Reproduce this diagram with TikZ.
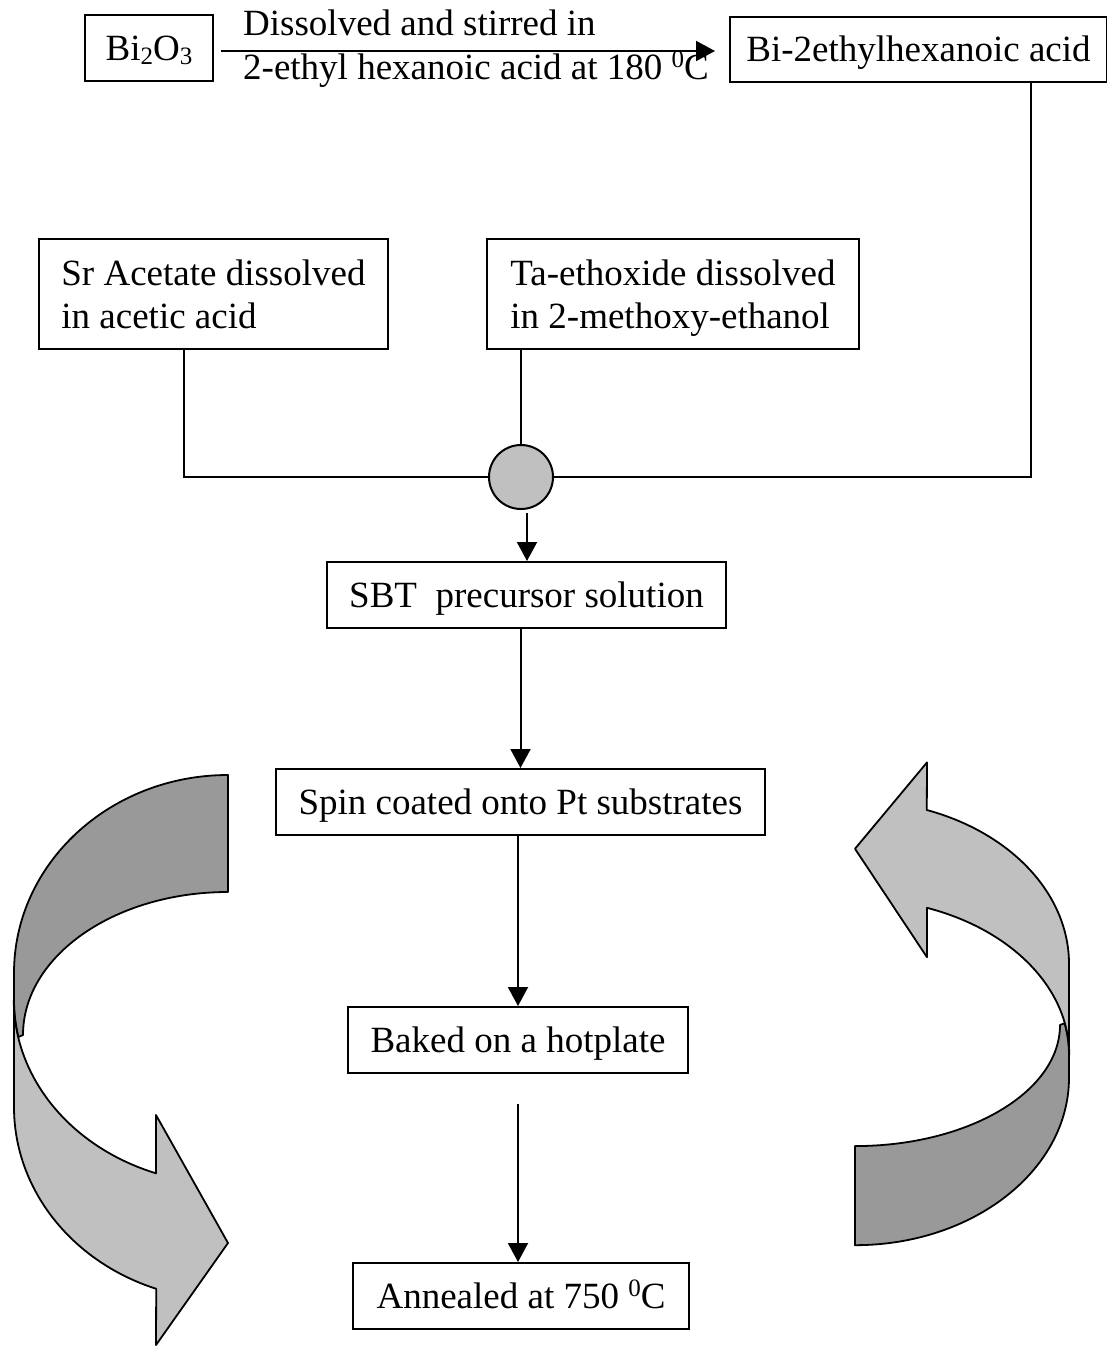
\documentclass[tikz,border=0pt]{standalone}
\usepackage{fontspec}
\setmainfont{Liberation Serif}
\usetikzlibrary{arrows.meta}
\definecolor{darkband}{HTML}{999999}
\definecolor{lightband}{HTML}{C0C0C0}
\definecolor{mixgray}{HTML}{C0C0C0}
\newcommand\fs{\fontsize{37}{43}\selectfont}
\newcommand\mysup[1]{\raisebox{12pt}{\fontsize{25}{25}\selectfont #1}}
\newcommand\mysub[1]{\raisebox{-5pt}{\fontsize{25}{25}\selectfont #1}}
\newcommand\curvedarrow{%
  \filldraw[band, fill=darkband] (228,775)
    arc[start angle=270, end angle=180, x radius=214, y radius=198]
    -- (14,1000)
    arc[start angle=180, end angle=168.4, x radius=214, y radius=184]
    -- (23,1035)
    arc[start angle=180, end angle=270, x radius=205, y radius=143]
    -- cycle;
  \filldraw[band, fill=lightband] (14,1000) -- (14,1107)
    arc[start angle=180, end angle=109.6, x radius=214, y radius=193]
    -- (156,1345) -- (228,1243) -- (156,1115) -- (156,1173.3)
    arc[start angle=109.6, end angle=180, x radius=214, y radius=184]
    -- cycle;
}
\tikzset{
  box/.style={draw, line width=2pt, inner sep=0pt, font=\fs,
    text height=30pt, text depth=6pt},
  twoline/.style={draw, line width=2pt, inner sep=0pt, font=\fs,
    align=left, text height=70pt, text depth=2pt},
  lbl/.style={inner sep=0pt, font=\fs, anchor=base west},
  conn/.style={line width=2pt},
  arr/.style={conn, -{Triangle[width=20pt,length=19pt]}},
  band/.style={line width=1.8pt, line join=round},
  mixnode/.style={circle, draw, line width=2pt, fill=mixgray, minimum size=64pt, inner sep=0pt},
}
\begin{document}
\begin{tikzpicture}[x=1pt, y=-1pt]
\useasboundingbox (0,0) rectangle (1107,1346);

% curved arrows
\curvedarrow
\begin{scope}[shift={(1083,1901.6)}, xscale=-1, yscale=-0.847]
  \curvedarrow
\end{scope}

% nodes
\node[box, minimum width=128pt, minimum height=66pt] (bio) at (149,48) {Bi\mysub{2}O\mysub{3}};
\node[box, minimum width=377pt, minimum height=65pt] (bieh) at (918.5,49.5) {Bi-2ethylhexanoic acid};
\node[twoline, minimum width=349pt, minimum height=110pt] (sr) at (213.5,294) {Sr Acetate dissolved\\in acetic acid};
\node[twoline, minimum width=372pt, minimum height=110pt] (ta) at (673,294) {Ta-ethoxide dissolved\\in 2-methoxy-ethanol};
\node[mixnode] (mix) at (521,477) {};
\node[box, minimum width=399pt, minimum height=66pt] (sbt) at (526.5,595) {SBT\ \ precursor solution};
\node[box, minimum width=489pt, minimum height=66pt] (spin) at (520.5,802) {Spin coated onto Pt substrates};
\node[box, minimum width=340pt, minimum height=66pt] (baked) at (518,1040) {Baked on a hotplate};
\node[box, minimum width=336pt, minimum height=66pt] (anneal) at (521,1296) {Annealed at 750 \mysup{0}C};

% arrow labels
\node[lbl] (lab1) at (243,36) {Dissolved and stirred in};
\node[lbl] (lab2) at (243,79) {2-ethyl hexanoic acid at 180 \mysup{0}C};

% connectors
\draw[arr] ([shift={(7,3)}]bio.east) -- ([shift={(-14,1.5)}]bieh.west);
\draw[conn] ([xshift=112.5pt]bieh.south) |- (mix.east);
\draw[conn] ([xshift=-29.5pt]sr.south) |- (mix.west);
\draw[conn] (ta.south -| mix.north) -- (mix.north);
\draw[arr] ([shift={(6,3)}]mix.south) -- ([xshift=0.5pt]sbt.north);
\draw[arr] (sbt.south -| spin.north) -- (spin.north);
\draw[arr] (spin.south -| baked.north) -- (baked.north);
\draw[arr] ([yshift=-30pt]baked.south) -- (baked.south |- anneal.north);
\end{tikzpicture}
\end{document}
